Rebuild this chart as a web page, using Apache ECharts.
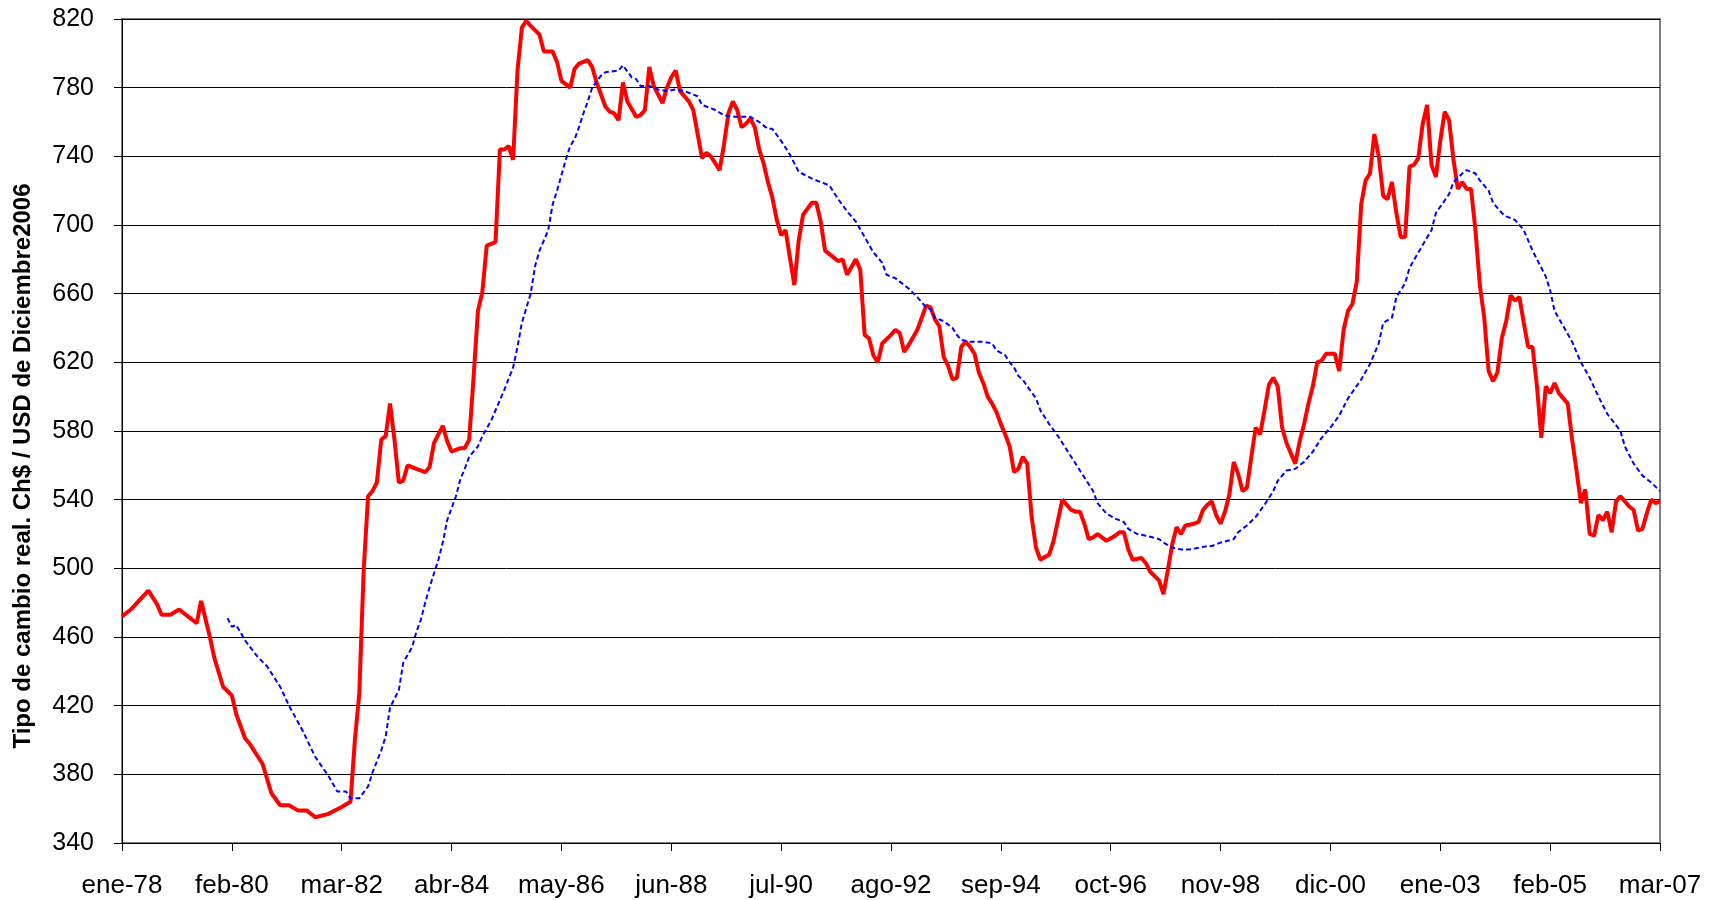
<!DOCTYPE html>
<html>
<head>
<meta charset="utf-8">
<script src="https://cdn.jsdelivr.net/npm/echarts@6/dist/echarts.min.js"></script>
<style>
  html, body { margin: 0; padding: 0; background: #fff; }
  #chart { width: 1710px; height: 900px; }
</style>
</head>
<body>
<div id="chart"></div>
<script>
// months counted from ene-78 (0) to mar-07 (350)
const xTickLabels = ['ene-78', 'feb-80', 'mar-82', 'abr-84', 'may-86', 'jun-88', 'jul-90', 'ago-92',
  'sep-94', 'oct-96', 'nov-98', 'dic-00', 'ene-03', 'feb-05', 'mar-07']

// tipo de cambio real (red)
const redMonth = [0, 2, 6, 8, 9, 11, 13, 15, 17, 18, 20, 21, 23, 25, 26, 28, 29, 32, 34, 36, 38, 40, 42, 44, 47,
  50, 52, 53, 54, 55, 56, 57, 58, 59, 60, 61, 62, 63, 64, 65, 67, 69, 70, 71, 73, 74, 75, 77, 78, 79,
  80, 81, 82, 83, 85, 86, 87, 88, 89, 90, 91, 92, 93, 95, 96, 98, 99, 100, 102, 103, 104, 106, 107, 108,
  110, 111, 112, 113, 114, 115, 117, 118, 119, 120, 121, 123, 124, 125, 126, 127, 129, 130, 131, 132, 133,
  134, 135, 136, 137, 138, 139, 140, 141, 142, 143, 144, 145, 146, 147, 148, 149, 150, 151, 152, 153, 154,
  155, 157, 158, 159, 160, 161, 163, 164, 165, 167, 168, 169, 170, 171, 172, 173, 175, 176, 177, 178, 179,
  181, 182, 183, 184, 185, 186, 187, 188, 189, 190, 191, 192, 193, 194, 195, 196, 197, 198, 199, 200, 201,
  202, 203, 204, 205, 206, 207, 208, 209, 211, 212, 213, 214, 216, 217, 218, 219, 220, 221, 222, 223, 224,
  226, 227, 228, 229, 230, 232, 233, 234, 236, 237, 238, 239, 240, 241, 242, 244, 245, 246, 247, 248, 249,
  250, 251, 252, 253, 254, 255, 256, 257, 258, 259, 260, 261, 262, 263, 264, 265, 267, 268, 269, 270, 271,
  272, 273, 274, 276, 277, 278, 279, 280, 281, 282, 283, 284, 285, 286, 287, 288, 289, 290, 291, 292, 293,
  294, 295, 296, 297, 298, 299, 300, 301, 302, 303, 304, 305, 306, 307, 308, 309, 310, 311, 312, 313, 314,
  315, 316, 317, 318, 319, 320, 321, 322, 323, 324, 325, 326, 327, 328, 329, 330, 331, 332, 333, 334, 335,
  336, 337, 338, 339, 340, 341, 343, 344, 345, 346, 347, 348, 349, 350]
const redValue = [472, 476, 487, 479, 473, 473, 476, 472, 468, 481, 460, 448, 431, 426, 415, 401, 398, 386, 369, 362, 362, 359, 359, 355, 357,
  361, 364, 400, 427, 499, 542, 545, 550, 575, 577, 596, 575, 550, 551, 560, 558, 556, 559, 573, 583, 574, 568, 570, 570, 575,
  611, 650, 661, 688, 690, 744, 744, 746, 738, 790, 815, 819, 816, 811, 801, 801, 795, 784, 780, 791, 794, 796, 792, 783,
  769, 766, 765, 761, 783, 772, 763, 764, 767, 792, 781, 771, 780, 786, 790, 778, 772, 767, 753, 739, 742,
  740, 736, 732, 747, 765, 772, 767, 757, 759, 762, 757, 744, 736, 725, 716, 703, 694, 697, 681, 665, 691,
  706, 713, 713, 702, 685, 683, 679, 680, 671, 680, 674, 636, 634, 624, 620, 631, 636, 639, 637, 626, 630,
  639, 646, 653, 652, 645, 641, 623, 618, 610, 611, 629, 632, 629, 625, 614, 608, 600, 596, 591, 584, 578,
  571, 556, 558, 565, 561, 530, 512, 505, 508, 516, 528, 540, 534, 533, 533, 526, 517, 518, 520, 518, 516,
  519, 521, 521, 511, 505, 506, 503, 498, 493, 485, 499, 514, 524, 520, 525, 526, 527, 534, 537, 539, 531,
  526, 533, 543, 562, 555, 545, 547, 565, 582, 578, 592, 607, 611, 606, 582, 573, 561, 574, 584, 596, 606,
  620, 621, 625, 625, 615, 639, 650, 654, 667, 712, 726, 730, 753, 740, 717, 715, 725, 707, 693, 693, 734,
  735, 739, 759, 770, 735, 728, 749, 766, 761, 738, 721, 725, 721, 721, 697, 665, 646, 615, 609, 614, 634,
  644, 659, 656, 658, 643, 629, 629, 606, 576, 606, 602, 608, 602, 599, 596, 575, 557, 538, 546, 520, 519,
  531, 528, 533, 521, 539, 542, 536, 534, 522, 523, 532, 540, 538, 539]

// promedio móvil (blue dashed)
const blueMonth = [24, 25, 26, 28, 31, 33, 36, 38, 41, 44, 47, 49, 51, 52, 54, 56, 57, 59, 60, 61, 63, 64, 66, 67, 68,
  69, 70, 71, 72, 73, 74, 75, 76, 77, 78, 79, 81, 82, 84, 87, 89, 90, 91, 93, 94, 95, 97, 98, 99, 101, 102,
  103, 104, 105, 106, 107, 109, 110, 113, 114, 116, 117, 118, 120, 122, 124, 126, 128, 131, 132, 135, 137,
  139, 141, 143, 145, 147, 148, 150, 152, 154, 157, 160, 161, 163, 165, 167, 169, 171, 173, 174, 176, 177,
  179, 181, 183, 184, 185, 187, 189, 190, 191, 193, 196, 198, 199, 201, 202, 203, 204, 205, 206, 208, 209,
  211, 213, 215, 217, 219, 221, 222, 224, 226, 228, 229, 231, 233, 236, 237, 239, 241, 243, 245, 247, 248,
  250, 253, 254, 256, 258, 260, 262, 263, 265, 267, 269, 271, 273, 275, 277, 279, 282, 284, 286, 287, 289,
  290, 292, 293, 295, 298, 299, 302, 303, 305, 306, 308, 309, 311, 312, 314, 315, 317, 319, 321, 324, 325,
  326, 328, 330, 332, 334, 336, 338, 341, 342, 344, 346, 348, 350]
const blueValue = [471, 466, 467, 458, 448, 443, 431, 420, 406, 390, 379, 370, 370, 366, 366, 373, 381, 394, 402, 419, 429, 445, 454, 463, 470,
  480, 489, 497, 505, 515, 528, 535, 542, 552, 558, 565, 571, 577, 586, 604, 617, 629, 643, 660, 676, 685, 697, 712, 720, 738, 746,
  750, 757, 765, 772, 780, 787, 789, 790, 793, 786, 785, 781, 781, 779, 778, 779, 778, 775, 770, 767, 764,
  763, 763, 763, 760, 756, 756, 749, 741, 731, 727, 724, 723, 715, 708, 702, 693, 684, 678, 671, 669, 667,
  663, 658, 652, 651, 646, 644, 640, 636, 633, 632, 632, 631, 627, 624, 620, 617, 612, 610, 606, 599, 592,
  584, 577, 569, 561, 553, 545, 538, 532, 529, 527, 523, 520, 519, 517, 515, 512, 511, 511, 512, 513, 513,
  515, 517, 521, 525, 530, 537, 545, 551, 557, 558, 562, 568, 576, 582, 589, 599, 610, 619, 631, 643, 646,
  658, 666, 675, 684, 697, 707, 718, 725, 730, 732, 730, 726, 720, 713, 707, 705, 703, 697, 685, 670, 662,
  650, 641, 632, 620, 611, 600, 590, 580, 571, 561, 554, 550, 545]

const redData = redMonth.map((m, i) => [m, redValue[i]])
const blueData = blueMonth.map((m, i) => [m, blueValue[i]])

const FONT = "'Liberation Sans', Arial, sans-serif"

const chart = echarts.init(document.getElementById('chart'))
chart.setOption({
  animation: false,
  backgroundColor: '#ffffff',
  grid: {
    left: 122, right: 50, top: 19, bottom: 57,
    show: true, borderColor: '#808080', borderWidth: 2
  },
  xAxis: {
    type: 'value',
    min: 0,
    max: 350,
    interval: 25,
    axisLine: { lineStyle: { color: '#000', width: 1 } },
    axisTick: { show: true, inside: false, length: 8, lineStyle: { color: '#000' } },
    axisLabel: {
      color: '#000', fontSize: 26, fontFamily: FONT, margin: 30,
      formatter: v => xTickLabels[Math.round(v / 25)] || ''
    },
    splitLine: { show: false }
  },
  yAxis: {
    type: 'value',
    min: 340,
    max: 820,
    interval: 40,
    axisLine: { show: true, lineStyle: { color: '#000', width: 1 } },
    axisTick: { show: true, inside: false, length: 8, lineStyle: { color: '#000' } },
    axisLabel: { color: '#000', fontSize: 25, fontFamily: FONT, margin: 28 },
    splitLine: { lineStyle: { color: '#000', width: 1 } }
  },
  graphic: [{
    type: 'text',
    x: 23,
    y: 466,
    rotation: Math.PI / 2,
    style: {
      text: 'Tipo de cambio real. Ch$ / USD de Diciembre2006',
      fontFamily: FONT,
      fontSize: 24,
      fontWeight: 'bold',
      fill: '#000',
      align: 'center',
      verticalAlign: 'middle'
    }
  }],
  series: [
    {
      name: 'real',
      type: 'line',
      data: redData,
      showSymbol: false,
      lineStyle: { color: '#ff0000', width: 4 },
      z: 2
    },
    {
      name: 'promedio',
      type: 'line',
      data: blueData,
      showSymbol: false,
      lineStyle: { color: '#0000ff', width: 2, type: [5, 3] },
      z: 3
    }
  ]
})
</script>
</body>
</html>
